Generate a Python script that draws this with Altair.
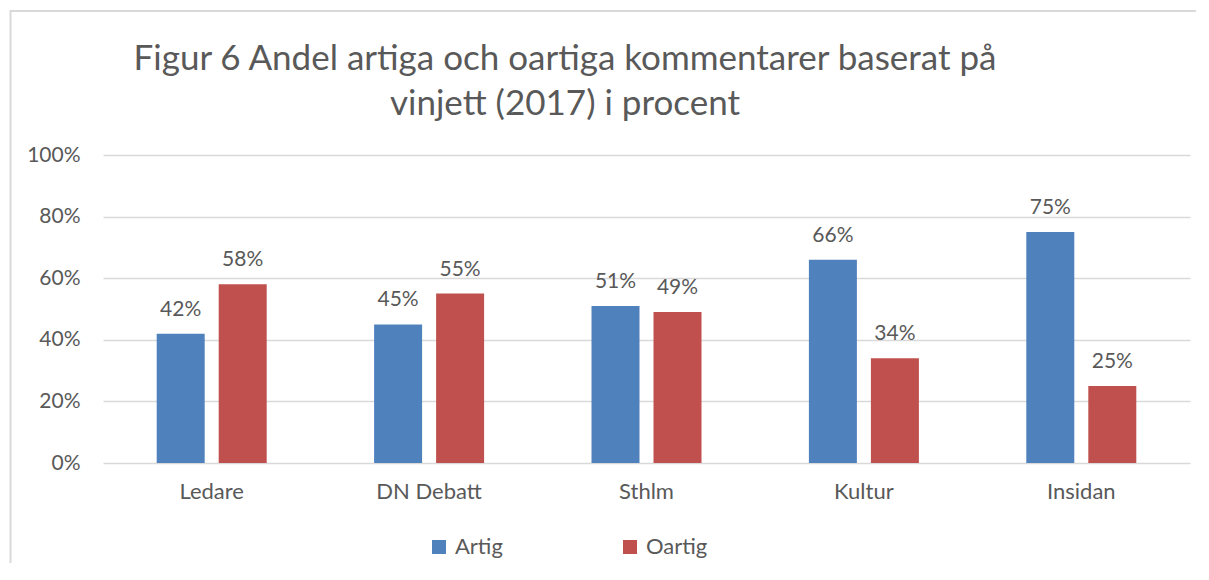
import altair as alt
import pandas as pd

categories = ["Ledare", "DN Debatt", "Sthlm", "Kultur", "Insidan"]
series = ["Artig", "Oartig"]
artig = [0.42, 0.45, 0.51, 0.66, 0.75]
oartig = [0.58, 0.55, 0.49, 0.34, 0.25]
title_lines = ["Figur 6 Andel artiga och oartiga kommentarer baserat på",
               "vinjett (2017) i procent"]
colors = ["#4F81BD", "#C0504D"]

rows = []
for c, a, o in zip(categories, artig, oartig):
    rows.append({"kategori": c, "serie": series[0], "andel": a})
    rows.append({"kategori": c, "serie": series[1], "andel": o})
df = pd.DataFrame(rows)

FONT = "Lato"
TXT = "#595959"
W, H = 1087, 308

x_enc = alt.X("kategori:N", sort=categories, title=None,
              scale=alt.Scale(paddingInner=0.494, paddingOuter=0.247),
              axis=alt.Axis(labelAngle=0, labelFontSize=22, labelFont=FONT,
                            labelColor=TXT, labelPadding=18, ticks=False,
                            domain=False, grid=False))
xoff = alt.XOffset("serie:N", sort=series,
                   scale=alt.Scale(paddingInner=0.226, paddingOuter=0))
y_enc = alt.Y("andel:Q", title=None,
              scale=alt.Scale(domain=[0, 1], nice=False),
              axis=alt.Axis(values=[0, 0.2, 0.4, 0.6, 0.8, 1.0], format=".0%",
                            labelFontSize=21, labelFont=FONT, labelColor=TXT,
                            labelPadding=23, ticks=False, domain=False,
                            grid=True, gridColor="#d9d9d9", gridWidth=1.5))

base = alt.Chart(df)

bars = base.mark_bar().encode(
    x=x_enc, xOffset=xoff, y=y_enc,
    color=alt.Color("serie:N", sort=series,
                    scale=alt.Scale(domain=series, range=colors),
                    legend=alt.Legend(title=None, orient="none", legendX=325,
                                      legendY=381, direction="horizontal",
                                      symbolType="square", symbolSize=196,
                                      symbolStrokeWidth=0, labelFontSize=22,
                                      labelFont=FONT, labelColor=TXT,
                                      labelOffset=5, columnPadding=116,
                                      padding=0)),
)

labels = base.mark_text(baseline="alphabetic", dy=-18, fontSize=21,
                        font=FONT, color=TXT).encode(
    x=alt.X("kategori:N", sort=categories),
    xOffset=alt.XOffset("serie:N", sort=series),
    y="andel:Q",
    text=alt.Text("andel:Q", format=".0%"),
)

title1 = alt.Chart(pd.DataFrame({"t": [title_lines[0]]})).mark_text(
    fontSize=35, font=FONT, color=TXT, align="center", baseline="alphabetic"
).encode(text="t:N", x=alt.value(462), y=alt.value(-85))
title2 = alt.Chart(pd.DataFrame({"t": [title_lines[1]]})).mark_text(
    fontSize=35, font=FONT, color=TXT, align="center", baseline="alphabetic"
).encode(text="t:N", x=alt.value(462), y=alt.value(-40))

one = pd.DataFrame({"a": [0]})
frame = alt.Chart(one).mark_rect(fill="transparent", stroke="#d9d9d9",
                                 strokeWidth=2).encode(
    x=alt.value(-92.5), x2=alt.value(W + 60),
    y=alt.value(-144), y2=alt.value(H + 160))

chart = alt.layer(frame, bars, labels, title1, title2).properties(
    width=W, height=H,
    autosize=alt.AutoSizeParams(type="none"),
    padding={"left": 95, "top": 147, "right": 6, "bottom": 100},
).configure(background="white").configure_view(stroke=None)

chart.save("out.html", embed_options={"renderer": "svg", "actions": False})
